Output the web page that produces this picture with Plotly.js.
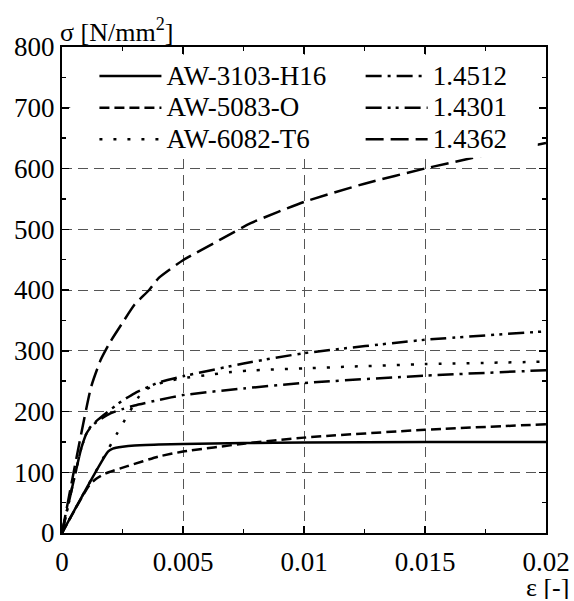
<!DOCTYPE html>
<html>
<head>
<meta charset="utf-8">
<script src="https://cdn.plot.ly/plotly-3.0.1.min.js"></script>
<style>html,body{margin:0;padding:0;background:#fff;}#chart{width:574px;height:601px;}</style>
</head>
<body>
<div id="chart"></div>
<script>
// ---- data ----
const names = ["AW-3103-H16", "AW-5083-O", "AW-6082-T6", "1.4512", "1.4301", "1.4362"];

const eps3103 = [0, 0.0019, 0.0021, 0.0025, 0.003, 0.004, 0.005, 0.0075, 0.01, 0.015, 0.02];
const sig3103 = [0, 134, 139, 142, 144, 145.5, 146.5, 148, 149, 150, 150];

const eps5083 = [0, 0.0011, 0.0014, 0.0018, 0.0027, 0.004, 0.005, 0.0075, 0.01, 0.015, 0.02];
const sig5083 = [0, 77, 89, 98, 110, 126, 134, 147, 157, 170, 179];

const eps6082 = [0, 0.0033, 0.0037, 0.004, 0.0045, 0.005, 0.006, 0.007, 0.008, 0.01, 0.012, 0.015, 0.02];
const sig6082 = [0, 231, 241, 246, 251, 255, 260, 265, 268, 271, 274, 278, 282];

const eps14512 = [0, 0.0008, 0.001, 0.0012, 0.0015, 0.002, 0.0025, 0.003, 0.004, 0.005, 0.0075, 0.01, 0.015, 0.02];
const sig14512 = [0, 140, 163, 175, 185, 197, 204, 210, 219, 227, 238, 247, 259, 268];

const eps14301 = [0, 0.0008, 0.001, 0.0012, 0.0015, 0.002, 0.0025, 0.003, 0.004, 0.005, 0.0075, 0.01, 0.015, 0.02];
const sig14301 = [0, 140, 163, 176, 187, 203, 218, 230, 248, 258, 279, 296, 318, 332];

const eps14362 = [0, 0.0012, 0.0016, 0.002, 0.0025, 0.003, 0.0036, 0.004, 0.005, 0.0065, 0.0078, 0.01, 0.0125, 0.015, 0.0175, 0.02];
const sig14362 = [0, 240, 285, 315, 346, 376, 400, 420, 449, 482, 510, 545, 575, 600, 622, 642];

const xTickVals = [0, 0.005, 0.01, 0.015, 0.02];
const xTickText = ["0", "0.005", "0.01", "0.015", "0.02"];
const yTickVals = [0, 100, 200, 300, 400, 500, 600, 700, 800];

// ---- styling ----
const FONT = "'Liberation Serif', 'Times New Roman', 'DejaVu Serif', serif";
const LW = 2.5;
function legendLabel(s) { return '<span style="font-size:27px">' + s + '</span>'; }
function tr(x, y, name, dash, legend) {
  return {
    x: x, y: y, name: legendLabel(name), type: "scatter", mode: "lines",
    line: {color: "#000", width: LW, dash: dash, shape: "spline", smoothing: 0.5},
    legend: legend, hoverinfo: "skip"
  };
}
const data = [
  tr(eps3103, sig3103, names[0], "solid", "legend"),
  tr(eps5083, sig5083, names[1], "10px,5px", "legend"),
  tr(eps6082, sig6082, names[2], "3px,11px", "legend"),
  tr(eps14512, sig14512, names[3], "16px,6px,3px,6px", "legend2"),
  tr(eps14301, sig14301, names[4], "16px,6px,3px,5px,3px,6px", "legend2"),
  tr(eps14362, sig14362, names[5], "18px,7px", "legend2")
];

const axisCommon = {
  showline: true, linecolor: "#000", linewidth: 2, mirror: "ticks",
  ticks: "inside", ticklen: 7, tickwidth: 1.5, tickcolor: "#000",
  showgrid: true, gridcolor: "#555", gridwidth: 1, griddash: "10px,6px",
  zeroline: false,
  tickfont: {family: FONT, size: 27, color: "#000"},
  minor: {ticks: "inside", ticklen: 4, tickwidth: 1.5, tickcolor: "#000", showgrid: false}
};

const legendCommon = {
  bgcolor: "rgba(0,0,0,0)", borderwidth: 0,
  font: {family: FONT, size: 22, color: "#000"},
  xanchor: "left", yanchor: "top", y: 0.983,
  itemwidth: 62, tracegroupgap: 0
};

const layout = {
  width: 574, height: 601,
  margin: {l: 62, r: 28, t: 47, b: 68},
  paper_bgcolor: "#fff", plot_bgcolor: "#fff",
  showlegend: true,
  xaxis: Object.assign({}, axisCommon, {
    range: [0, 0.02], tickvals: xTickVals, ticktext: xTickText,
    ticklabelstandoff: 4,
    minor: Object.assign({}, axisCommon.minor, {dtick: 0.0025})
  }),
  yaxis: Object.assign({}, axisCommon, {
    range: [0, 800], tickvals: yTickVals,
    minor: Object.assign({}, axisCommon.minor, {dtick: 50})
  }),
  legend: Object.assign({}, legendCommon, {x: 0.067}),
  legend2: Object.assign({}, legendCommon, {x: 0.617}),
  shapes: [{
    type: "rect", xref: "paper", yref: "paper", layer: "above",
    x0: 0.017, x1: 0.983, y0: 0.772, y1: 0.984,
    fillcolor: "#fff", line: {width: 0}
  }],
  annotations: [
    {text: "σ [N/mm<sup>2</sup>]", xref: "paper", yref: "paper", x: 0, y: 1,
     xanchor: "left", yanchor: "bottom", showarrow: false, xshift: -4, yshift: -2,
     font: {family: FONT, size: 26, color: "#000"}},
    {text: "ε [-]", xref: "paper", yref: "paper", x: 1, y: 0,
     xanchor: "right", yanchor: "bottom", showarrow: false, xshift: 24, yshift: -67,
     height: 24, valign: "middle", borderpad: 0,
     font: {family: FONT, size: 26, color: "#000"}}
  ]
};

Plotly.newPlot("chart", data, layout, {displayModeBar: false, staticPlot: true});
</script>
</body>
</html>
